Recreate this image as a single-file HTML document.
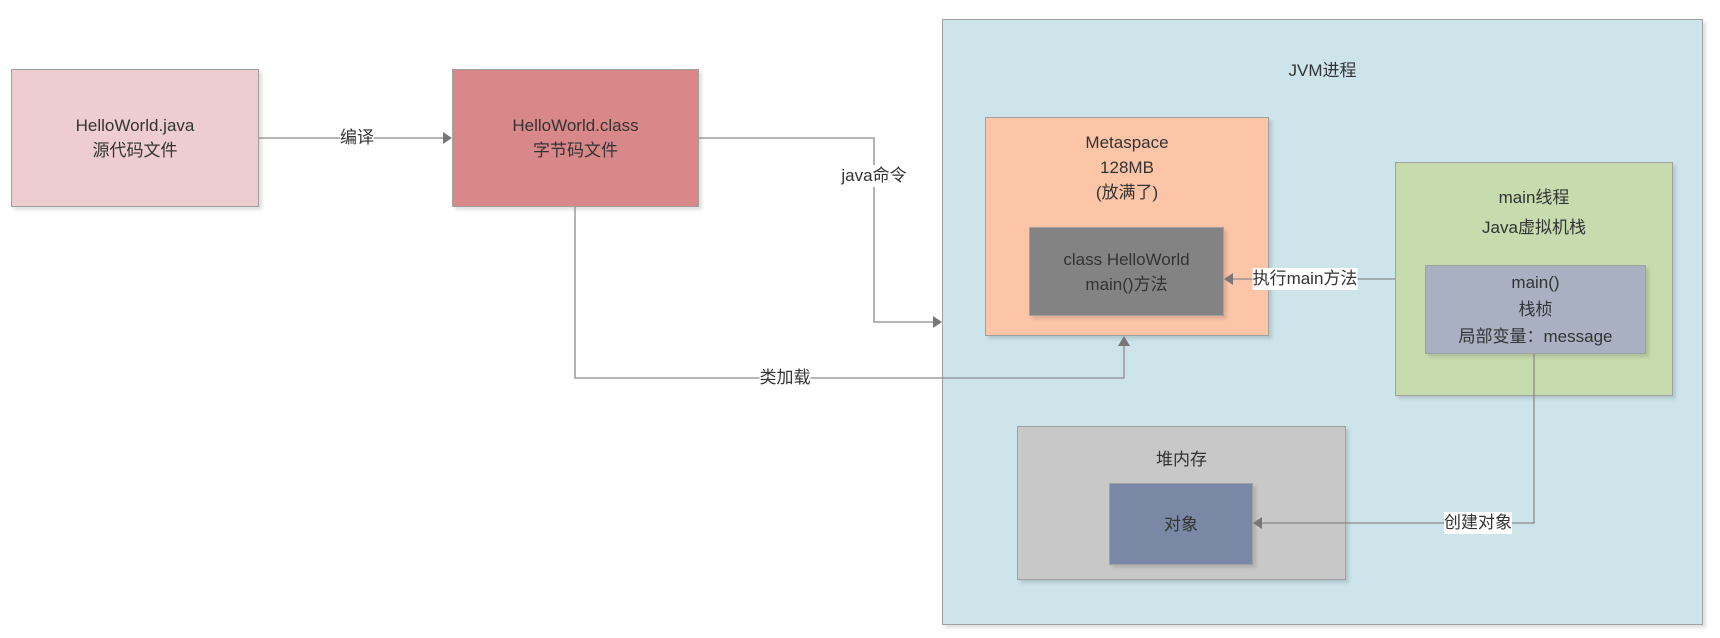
<!DOCTYPE html>
<html><head><meta charset="utf-8"><style>
body{margin:0;width:1720px;height:638px;background:#fff;position:relative;overflow:hidden;font-family:"Liberation Sans","Noto Sans CJK SC",sans-serif;color:#333;}
.b{position:absolute;box-sizing:border-box;border:1px solid #a0a0a0;box-shadow:3px 3px 3px rgba(0,0,0,0.12);display:flex;flex-direction:column;align-items:center;text-align:center;font-size:17px;line-height:25px;}
.c{justify-content:center;}
.l{position:absolute;background:#fff;font-size:17px;line-height:22px;transform:translate(-50%,-50%);white-space:nowrap;}
svg{position:absolute;left:0;top:0;}
</style></head><body>
<div class="b c" style="left:11px;top:69px;width:248px;height:138px;background:#eecdd0;">HelloWorld.java<br>源代码文件</div>
<div class="b c" style="left:452px;top:69px;width:247px;height:138px;background:#d98889;">HelloWorld.class<br>字节码文件</div>
<div class="b" style="left:942px;top:19px;width:761px;height:606px;background:#cde4eb;padding-top:38px;">JVM进程</div>
<div class="b" style="left:985px;top:117px;width:284px;height:219px;background:#fdc5a8;padding-top:12px;">Metaspace<br>128MB<br>(放满了)</div>
<div class="b c" style="left:1029px;top:227px;width:195px;height:89px;background:#838383;">class HelloWorld<br>main()方法</div>
<div class="b" style="left:1395px;top:162px;width:278px;height:234px;background:#c6dbae;padding-top:20px;line-height:30px;">main线程<br>Java虚拟机栈</div>
<div class="b c" style="left:1425px;top:265px;width:221px;height:89px;background:#a9b0c1;line-height:27px;">main()<br>栈桢<br>局部变量：message</div>
<div class="b" style="left:1017px;top:426px;width:329px;height:154px;background:#c8c8c8;padding-top:20px;">堆内存</div>
<div class="b c" style="left:1109px;top:483px;width:144px;height:82px;background:#7a88a5;">对象</div>
<svg width="1720" height="638">
<g stroke="#8a8a8a" stroke-width="1.3" fill="none">
<path d="M259 138H444"/>
<path d="M699 138H874V322H934"/>
<path d="M575 207V378H1124V344"/>
<path d="M1395 279H1232"/>
<path d="M1534 354V523H1261"/>
</g>
<g fill="#777">
<path d="M452 138l-9-6v12z"/>
<path d="M942 322l-9-6v12z"/>
<path d="M1124 336l-6 10h12z"/>
<path d="M1224 279l9-6v12z"/>
<path d="M1253 523l9-6v12z"/>
</g>
</svg>
<div class="l" style="left:357px;top:138px;">编译</div>
<div class="l" style="left:874px;top:176px;">java命令</div>
<div class="l" style="left:785px;top:378px;">类加载</div>
<div class="l" style="left:1305px;top:279px;">执行main方法</div>
<div class="l" style="left:1478px;top:523px;">创建对象</div>
</body></html>
